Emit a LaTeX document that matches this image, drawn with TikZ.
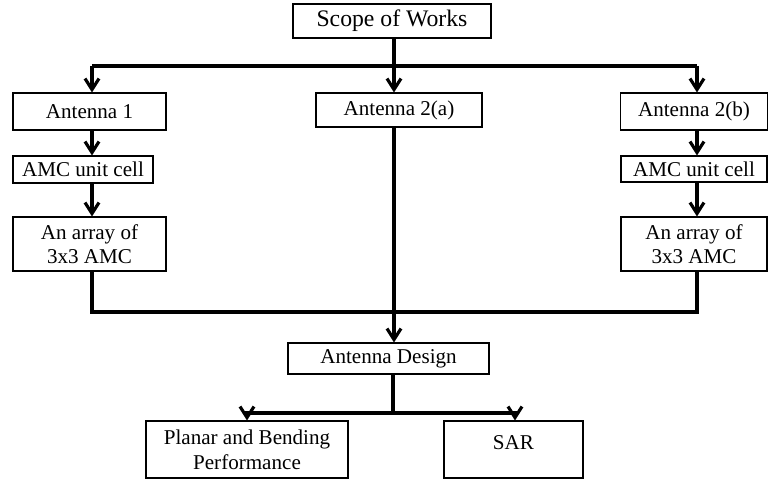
\documentclass[tikz,border=0pt]{standalone}
\usepackage{fontspec}
\setmainfont{Liberation Serif}
\usetikzlibrary{arrows.meta}

\begin{document}
\begin{tikzpicture}[x=0.02cm,y=-0.02cm,
  box/.style={draw,line width=0.6pt,inner sep=0pt,align=center,font=\fontsize{12}{14}\selectfont},
  link/.style={line width=1.8pt},
  arw/.style={link,-{Straight Barb[length=0.22cm,width=0.28cm]}}]
\useasboundingbox (0,0) rectangle (769,479);
\node[box,minimum width=198*0.02cm,minimum height=34*0.02cm,font=\fontsize{13.5}{15}\selectfont] (scope) at (392,21) {Scope of Works};
\node[box,minimum width=153*0.02cm,minimum height=37*0.02cm] (ant1) at (89.5,111.5) {Antenna 1};
\node[box,minimum width=140*0.02cm,minimum height=27*0.02cm] (amc1) at (83,169.5) {AMC unit cell};
\node[box,minimum width=153*0.02cm,minimum height=54*0.02cm] (arr1) at (89.5,244) {An array of\\3x3 AMC};
\node[box,minimum width=166*0.02cm,minimum height=34*0.02cm] (ant2a) at (399,110) {Antenna 2(a)};
\node[box,minimum width=147*0.02cm,minimum height=37*0.02cm] (ant2b) at (694,111.5) {Antenna 2(b)};
\node[box,minimum width=146*0.02cm,minimum height=26*0.02cm] (amc2) at (694,169) {AMC unit cell};
\node[box,minimum width=146*0.02cm,minimum height=54*0.02cm] (arr2) at (694,244) {An array of\\3x3 AMC};
\node[box,minimum width=201*0.02cm,minimum height=31*0.02cm] (design) at (388.5,358.5) {Antenna Design};
\node[box,minimum width=202*0.02cm,minimum height=57*0.02cm] (planar) at (247,449.5) {Planar and Bending\\Performance};
\node[box,minimum width=139*0.02cm,minimum height=57*0.02cm,text depth=14*0.02cm] (sar) at (513.5,449.5) {SAR};
\coordinate (topl) at (92,66);
\coordinate (topm) at (394,66);
\coordinate (topr) at (697,66);
\coordinate (botl) at (92,312);
\coordinate (botr) at (697,312);
\coordinate (split) at (393,413);
\draw[link] (scope.south -| topm) -- (topm);
\draw[link] (topl) -- (topr);
\draw[arw] (topl) -- (topl |- ant1.north);
\draw[arw] (topm) -- (topm |- ant2a.north);
\draw[arw] (topr) -- (topr |- ant2b.north);
\draw[arw] (topl |- ant1.south) -- (topl |- amc1.north);
\draw[arw] (topl |- amc1.south) -- (topl |- arr1.north);
\draw[arw] (topr |- ant2b.south) -- (topr |- amc2.north);
\draw[arw] (topr |- amc2.south) -- (topr |- arr2.north);
\draw[link] (botl |- arr1.south) -- (botl) -- (botr) -- (botr |- arr2.south);
\draw[arw] (topm |- ant2a.south) -- (topm |- design.north);
\draw[link] (split |- design.south) -- (split);
\draw[arw] (split) -| (planar.north);
\draw[arw] (split) -| ([xshift=1.5*0.02cm]sar.north);
\end{tikzpicture}
\end{document}
